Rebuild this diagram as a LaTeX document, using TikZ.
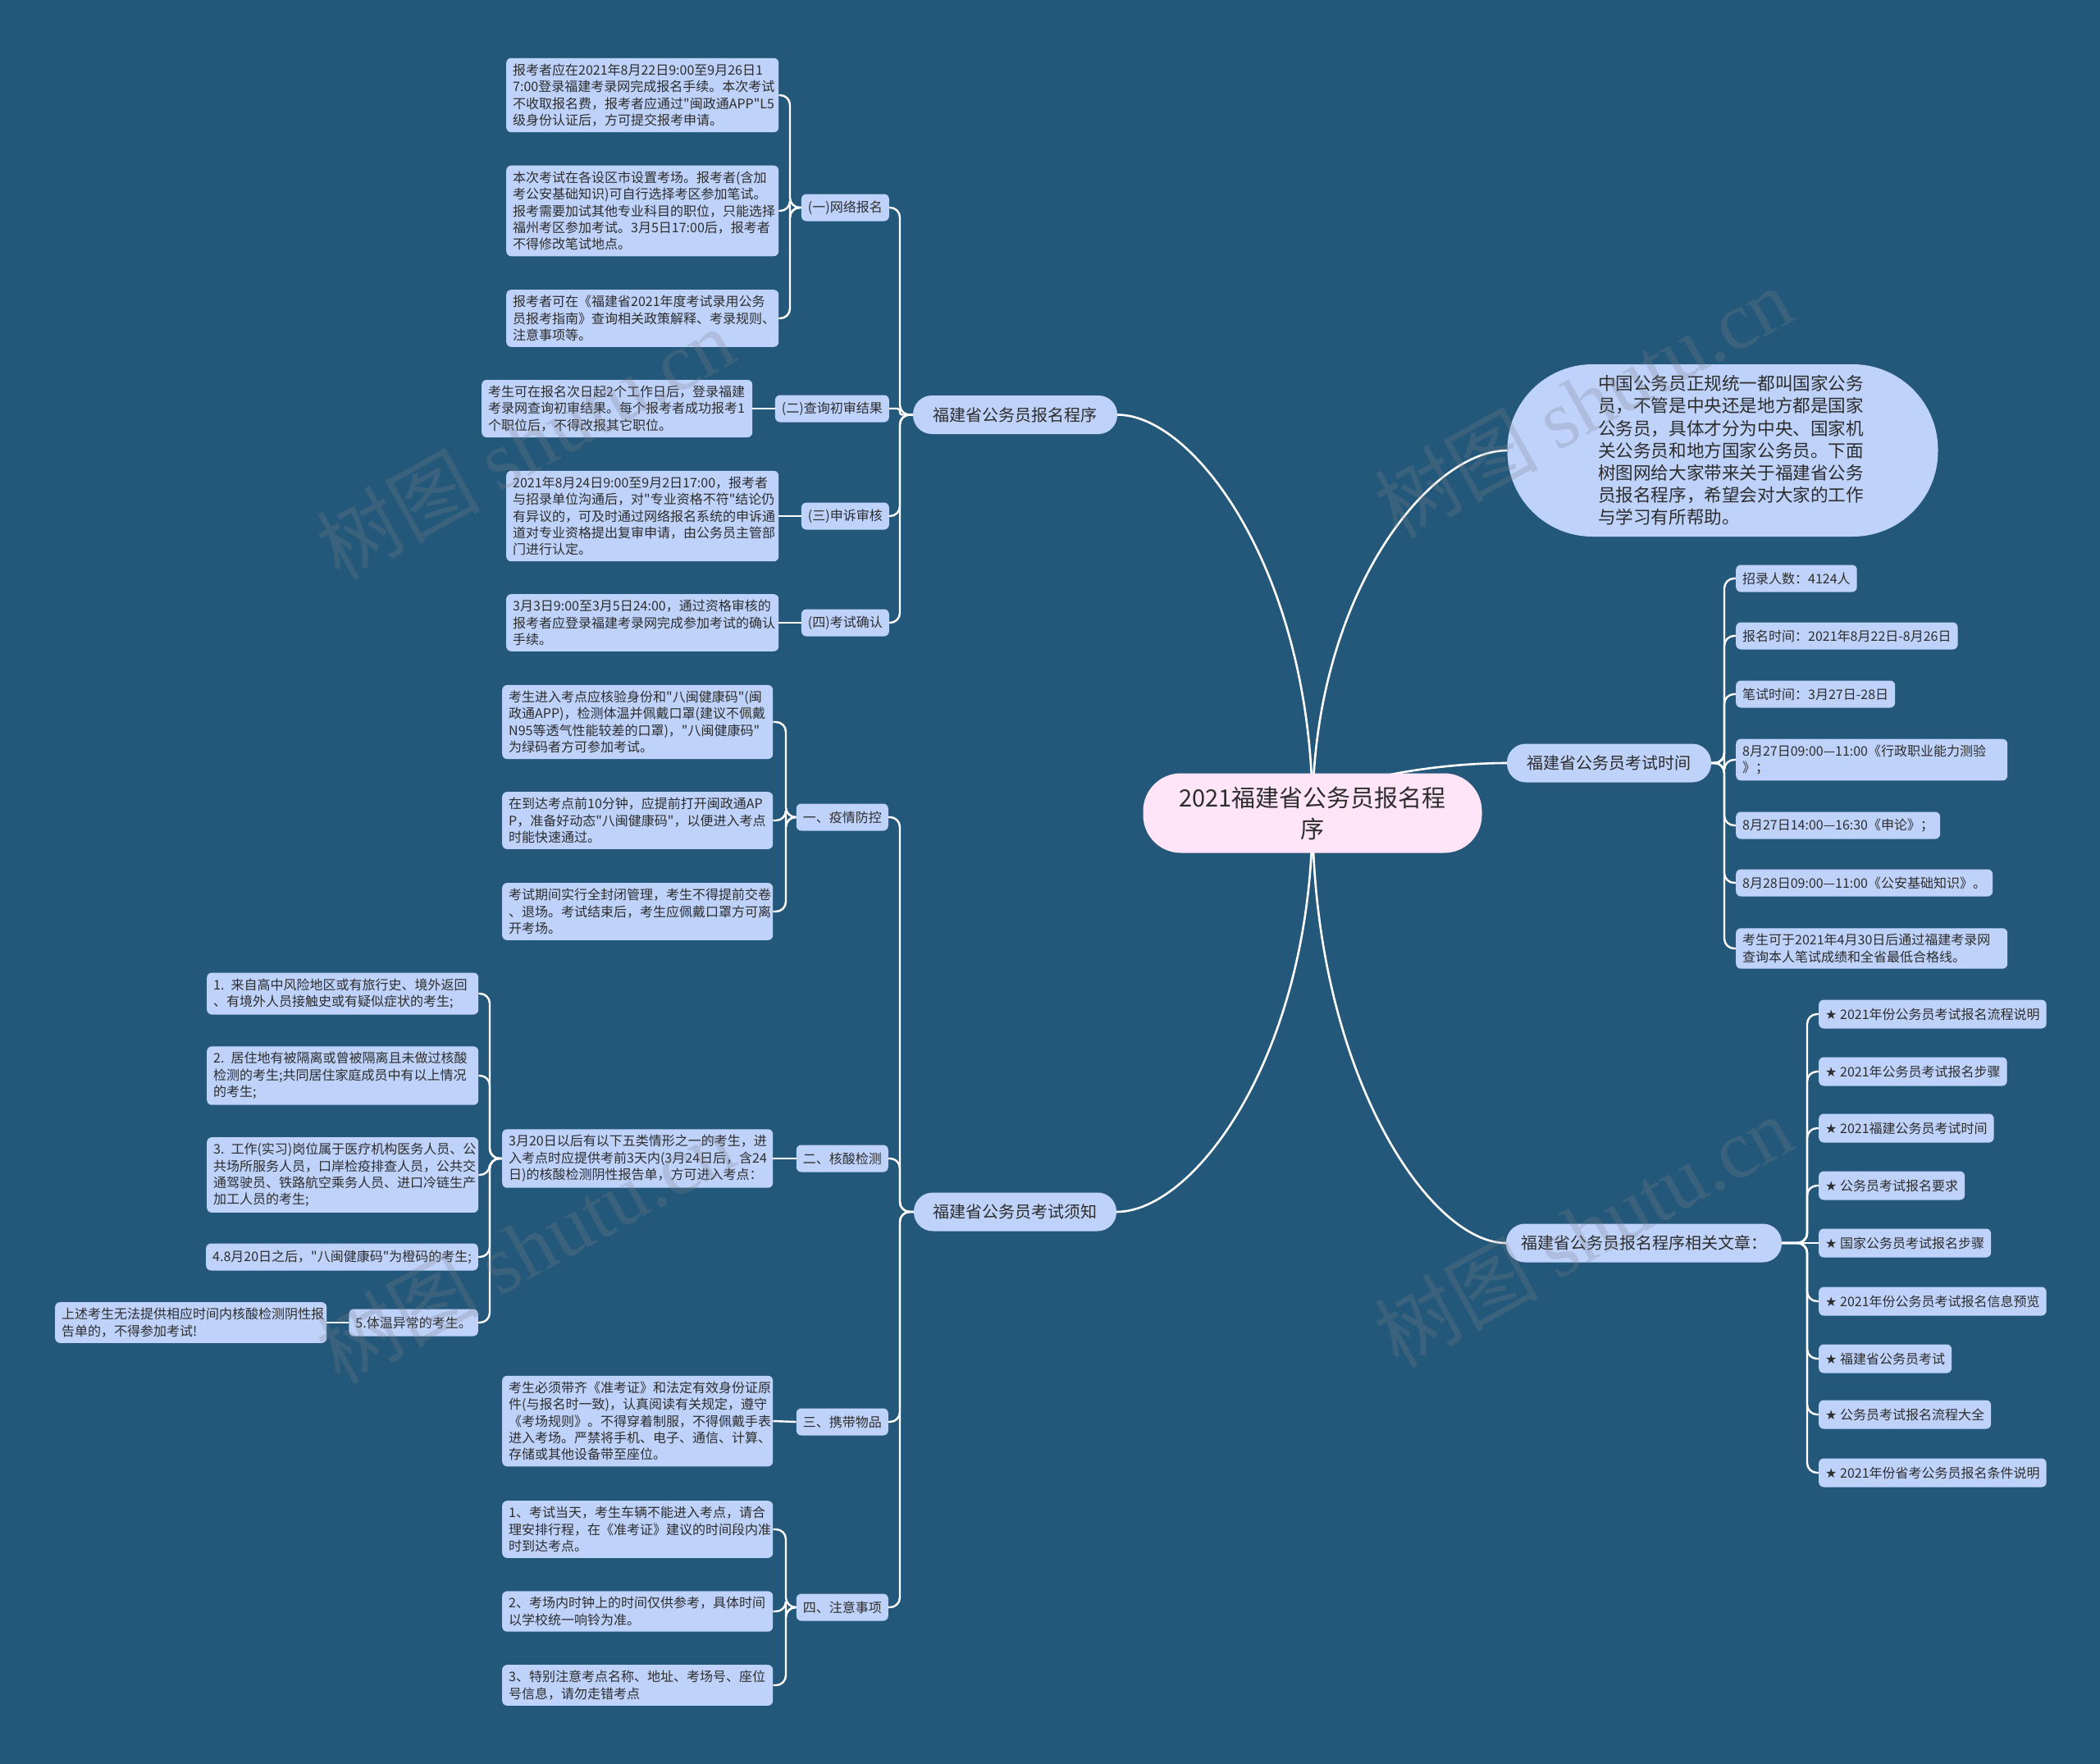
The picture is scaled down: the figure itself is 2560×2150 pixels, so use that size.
\documentclass[tikz,border=0pt]{standalone}
\usepackage{fontspec}
\setmainfont{Noto Sans CJK SC}[Ligatures=TeXOff]
\newfontfamily\djv{DejaVu Sans}
\newfontfamily\wmserif{Liberation Serif}
\definecolor{bgc}{RGB}{36,88,122}
\definecolor{leafc}{RGB}{190,210,250}
\definecolor{rootc}{RGB}{255,229,247}
\definecolor{txt}{RGB}{45,45,45}
\definecolor{wmc}{RGB}{128,128,135}
\pgfdeclarelayer{back}
\pgfdeclarelayer{edges}
\pgfsetlayers{back,edges,main}
\begin{document}
\begin{tikzpicture}[x=1pt,y=-1pt,
  leaf/.style={fill=leafc, rounded corners=6pt, inner xsep=8pt, inner ysep=7pt, text=txt, align=left, font=\fontsize{16}{20.4}\selectfont},
  lw/.style={leaf, anchor=west},
  le/.style={leaf, anchor=east, minimum height=33pt},
  one/.style={minimum height=33pt},
  dnode/.style={leaf, anchor=west, minimum height=35pt},
  mainbr/.style={fill=leafc, rounded corners=23pt, minimum height=47pt, text=txt, font=\fontsize{20}{24}\selectfont, inner xsep=12pt},
  rootn/.style={fill=rootc, rounded corners=46pt, minimum width=413pt, minimum height=97pt, text=txt, align=center, font=\fontsize{29}{38}\selectfont},
  pill/.style={fill=leafc, rounded corners=104pt, minimum width=525pt, minimum height=210pt, text width=304pt, align=left, text=txt, font=\fontsize{21.6}{27.2}\selectfont},
  conn/.style={draw=white, line width=2.4pt, rounded corners=12pt},
  curve/.style={draw=white, line width=2.6pt},
  wm/.style={text=wmc, opacity=0.25, rotate=29, font=\fontsize{100}{100}\selectfont}
]
\useasboundingbox (0,0) rectangle (2560,2150);
\begin{pgfonlayer}{back}
\fill[bgc] (0,0) rectangle (2560,2150);
\end{pgfonlayer}

% ---------- root and main branches ----------
\node[rootn] (root) at (1600,991) {2021福建省公务员报名程\\序};
\node[mainbr, minimum width=249pt] (bA) at (1237.5,505.5) {福建省公务员报名程序};
\node[mainbr, minimum width=247pt] (bB) at (1237.5,1477) {福建省公务员考试须知};
\node[pill] (desc) at (2100,549) {中国公务员正规统一都叫国家公务\\员，不管是中央还是地方都是国家\\公务员，具体才分为中央、国家机\\关公务员和地方国家公务员。下面\\树图网给大家带来关于福建省公务\\员报名程序，希望会对大家的工作\\与学习有所帮助。};
\node[mainbr, minimum width=249pt] (bC) at (1961.5,930) {福建省公务员考试时间};
\node[mainbr, minimum width=336pt] (bD) at (2004,1515) {福建省公务员报名程序相关文章：};

% ---------- group A ----------
\node[lw, text width=316pt] (a1) at (617,116) {报考者应在2021年8月22日9:00至9月26日1\\7:00登录福建考录网完成报名手续。本次考试\\不收取报名费，报考者应通过"闽政通APP"L5\\级身份认证后，方可提交报考申请。};
\node[lw, text width=316pt] (a2) at (617,257) {本次考试在各设区市设置考场。报考者(含加\\考公安基础知识)可自行选择考区参加笔试。\\报考需要加试其他专业科目的职位，只能选择\\福州考区参加考试。3月5日17:00后，报考者\\不得修改笔试地点。};
\node[lw, text width=316pt] (a3) at (617,388) {报考者可在《福建省2021年度考试录用公务\\员报考指南》查询相关政策解释、考录规则、\\注意事项等。};
\node[le] (s1) at (1084,253) {(一)网络报名};
\node[lw, text width=314pt] (a4) at (587,498) {考生可在报名次日起2个工作日后，登录福建\\考录网查询初审结果。每个报考者成功报考1\\个职位后，不得改报其它职位。};
\node[le] (s2) at (1084,498) {(二)查询初审结果};
\node[lw, text width=316pt] (a5) at (617,629) {2021年8月24日9:00至9月2日17:00，报考者\\与招录单位沟通后，对"专业资格不符"结论仍\\有异议的，可及时通过网络报名系统的申诉通\\道对专业资格提出复审申请，由公务员主管部\\门进行认定。};
\node[le] (s3) at (1084,629) {(三)申诉审核};
\node[lw, text width=316pt] (a6) at (617,759) {3月3日9:00至3月5日24:00，通过资格审核的\\报考者应登录福建考录网完成参加考试的确认\\手续。};
\node[le] (s4) at (1084,759) {(四)考试确认};

% ---------- group B ----------
\node[lw, text width=314pt] (b1) at (612,880) {考生进入考点应核验身份和"八闽健康码"(闽\\政通APP)，检测体温并佩戴口罩(建议不佩戴\\N95等透气性能较差的口罩)，"八闽健康码"\\为绿码者方可参加考试。};
\node[lw, text width=314pt] (b2) at (612,1000) {在到达考点前10分钟，应提前打开闽政通AP\\P，准备好动态"八闽健康码"，以便进入考点\\时能快速通过。};
\node[lw, text width=314pt] (b3) at (612,1111) {考试期间实行全封闭管理，考生不得提前交卷\\、退场。考试结束后，考生应佩戴口罩方可离\\开考场。};
\node[le] (t1) at (1083,996) {一、疫情防控};

\node[lw, text width=314pt] (mm) at (612,1412) {3月20日以后有以下五类情形之一的考生，进\\入考点时应提供考前3天内(3月24日后，含24\\日)的核酸检测阴性报告单，方可进入考点：};
\node[le] (t2) at (1083,1412) {二、核酸检测};
\node[lw, text width=315pt] (c1) at (252,1211) {1. 来自高中风险地区或有旅行史、境外返回\\、有境外人员接触史或有疑似症状的考生;};
\node[lw, text width=315pt] (c2) at (252,1311) {2. 居住地有被隔离或曾被隔离且未做过核酸\\检测的考生;共同居住家庭成员中有以上情况\\的考生;};
\node[lw, text width=315pt] (c3) at (252,1432) {3. 工作(实习)岗位属于医疗机构医务人员、公\\共场所服务人员，口岸检疫排查人员，公共交\\通驾驶员、铁路航空乘务人员、进口冷链生产\\加工人员的考生;};
\node[le] (c4) at (583,1532) {4.8月20日之后，"八闽健康码"为橙码的考生;};
\node[le] (c5) at (583,1612) {5.体温异常的考生。};
\node[lw, text width=315pt] (c6) at (67,1612) {上述考生无法提供相应时间内核酸检测阴性报\\告单的，不得参加考试!};

\node[lw, text width=314pt] (b4) at (612,1732) {考生必须带齐《准考证》和法定有效身份证原\\件(与报名时一致)，认真阅读有关规定，遵守\\《考场规则》。不得穿着制服，不得佩戴手表\\进入考场。严禁将手机、电子、通信、计算、\\存储或其他设备带至座位。};
\node[le] (t3) at (1083,1733) {三、携带物品};
\node[lw, text width=314pt] (b5) at (612,1864) {1、考试当天，考生车辆不能进入考点，请合\\理安排行程，在《准考证》建议的时间段内准\\时到达考点。};
\node[lw, text width=314pt] (b6) at (612,1964) {2、考场内时钟上的时间仅供参考，具体时间\\以学校统一响铃为准。};
\node[lw, text width=314pt] (b7) at (612,2054) {3、特别注意考点名称、地址、考场号、座位\\号信息，请勿走错考点};
\node[le] (t4) at (1083,1959) {四、注意事项};

% ---------- group C ----------
\node[lw, one] (r1) at (2116,705) {招录人数：4124人};
\node[lw, one] (r2) at (2116,775) {报名时间：2021年8月22日-8月26日};
\node[lw, one] (r3) at (2116,846) {笔试时间：3月27日-28日};
\node[lw, text width=315pt] (r4) at (2116,926) {8月27日09:00—11:00《行政职业能力测验\\》；};
\node[lw, one] (r5) at (2116,1006) {8月27日14:00—16:30《申论》；};
\node[lw, one] (r6) at (2116,1076) {8月28日09:00—11:00《公安基础知识》。};
\node[lw, text width=315pt] (r7) at (2116,1156) {考生可于2021年4月30日后通过福建考录网\\查询本人笔试成绩和全省最低合格线。};

% ---------- group D ----------
\node[dnode] (d1) at (2217,1236) {{\djv ★} 2021年份公务员考试报名流程说明};
\node[dnode] (d2) at (2217,1306) {{\djv ★} 2021年公务员考试报名步骤};
\node[dnode] (d3) at (2217,1375) {{\djv ★} 2021福建公务员考试时间};
\node[dnode] (d4) at (2217,1445) {{\djv ★} 公务员考试报名要求};
\node[dnode] (d5) at (2217,1515) {{\djv ★} 国家公务员考试报名步骤};
\node[dnode] (d6) at (2217,1586) {{\djv ★} 2021年份公务员考试报名信息预览};
\node[dnode] (d7) at (2217,1656) {{\djv ★} 福建省公务员考试};
\node[dnode] (d8) at (2217,1724) {{\djv ★} 公务员考试报名流程大全};
\node[dnode] (d9) at (2217,1795) {{\djv ★} 2021年份省考公务员报名条件说明};

% ---------- trunk coordinates ----------
\coordinate (kA) at (1097,505.5);
\coordinate (kA1) at (963,253);
\coordinate (kB) at (1097,1477);
\coordinate (kB1) at (958,996);
\coordinate (kB2) at (597,1412);
\coordinate (kB4) at (958,1959);
\coordinate (kC) at (2102,930);
\coordinate (kD) at (2203,1515);

\begin{pgfonlayer}{edges}
% root curves
\draw[curve] (root.center) .. controls (1600,700) and (1457,505.5) .. (bA.east);
\draw[curve] (root.center) .. controls (1600,1283) and (1457,1477) .. (bB.east);
\draw[curve] (root.center) .. controls (1600,726) and (1742,549) .. (desc.west);
\draw[curve] (root.center) .. controls (1600,954) and (1742,930) .. (bC.west);
\draw[curve] (root.center) .. controls (1600,1305) and (1742,1515) .. (bD.west);
% group A
\foreach \c in {s1,s3,s4} \draw[conn] (bA.west) -- (kA) |- (\c.east);
\draw[conn, rounded corners=3pt] (bA.west) -- (kA) |- (s2.east);
\foreach \c in {a1,a2,a3} \draw[conn] (s1.west) -- (kA1) |- (\c.east);
\draw[conn] (s2.west) -- (a4.east);
\draw[conn] (s3.west) -- (a5.east);
\draw[conn] (s4.west) -- (a6.east);
% group B
\foreach \c in {t1,t2,t3,t4} \draw[conn] (bB.west) -- (kB) |- (\c.east);
\foreach \c in {b1,b2,b3} \draw[conn] (t1.west) -- (kB1) |- (\c.east);
\draw[conn] (t2.west) -- (mm.east);
\foreach \c in {c1,c2,c3,c4,c5} \draw[conn] (mm.west) -- (kB2) |- (\c.east);
\draw[conn] (c5.west) -- (c6.east);
\draw[conn] (t3.west) -- (b4.east);
\foreach \c in {b5,b6,b7} \draw[conn] (t4.west) -- (kB4) |- (\c.east);
% group C
\foreach \c in {r1,r2,r3,r4,r5,r6,r7} \draw[conn] (bC.east) -- (kC) |- (\c.west);
% group D
\foreach \c in {d1,d2,d3,d4,d6,d7,d8,d9} \draw[conn] (bD.east) -- (kD) |- (\c.west);
\draw[conn] (bD.east) -- (d5.west);
\end{pgfonlayer}

% ---------- watermarks ----------
\node[wm] (w1) at (640,540) {树图 {\wmserif shutu.cn}};
\node[wm] (w2) at (1930,490) {树图 {\wmserif shutu.cn}};
\node[wm] (w3) at (640,1520) {树图 {\wmserif shutu.cn}};
\node[wm] (w4) at (1930,1500) {树图 {\wmserif shutu.cn}};
\end{tikzpicture}
\end{document}
